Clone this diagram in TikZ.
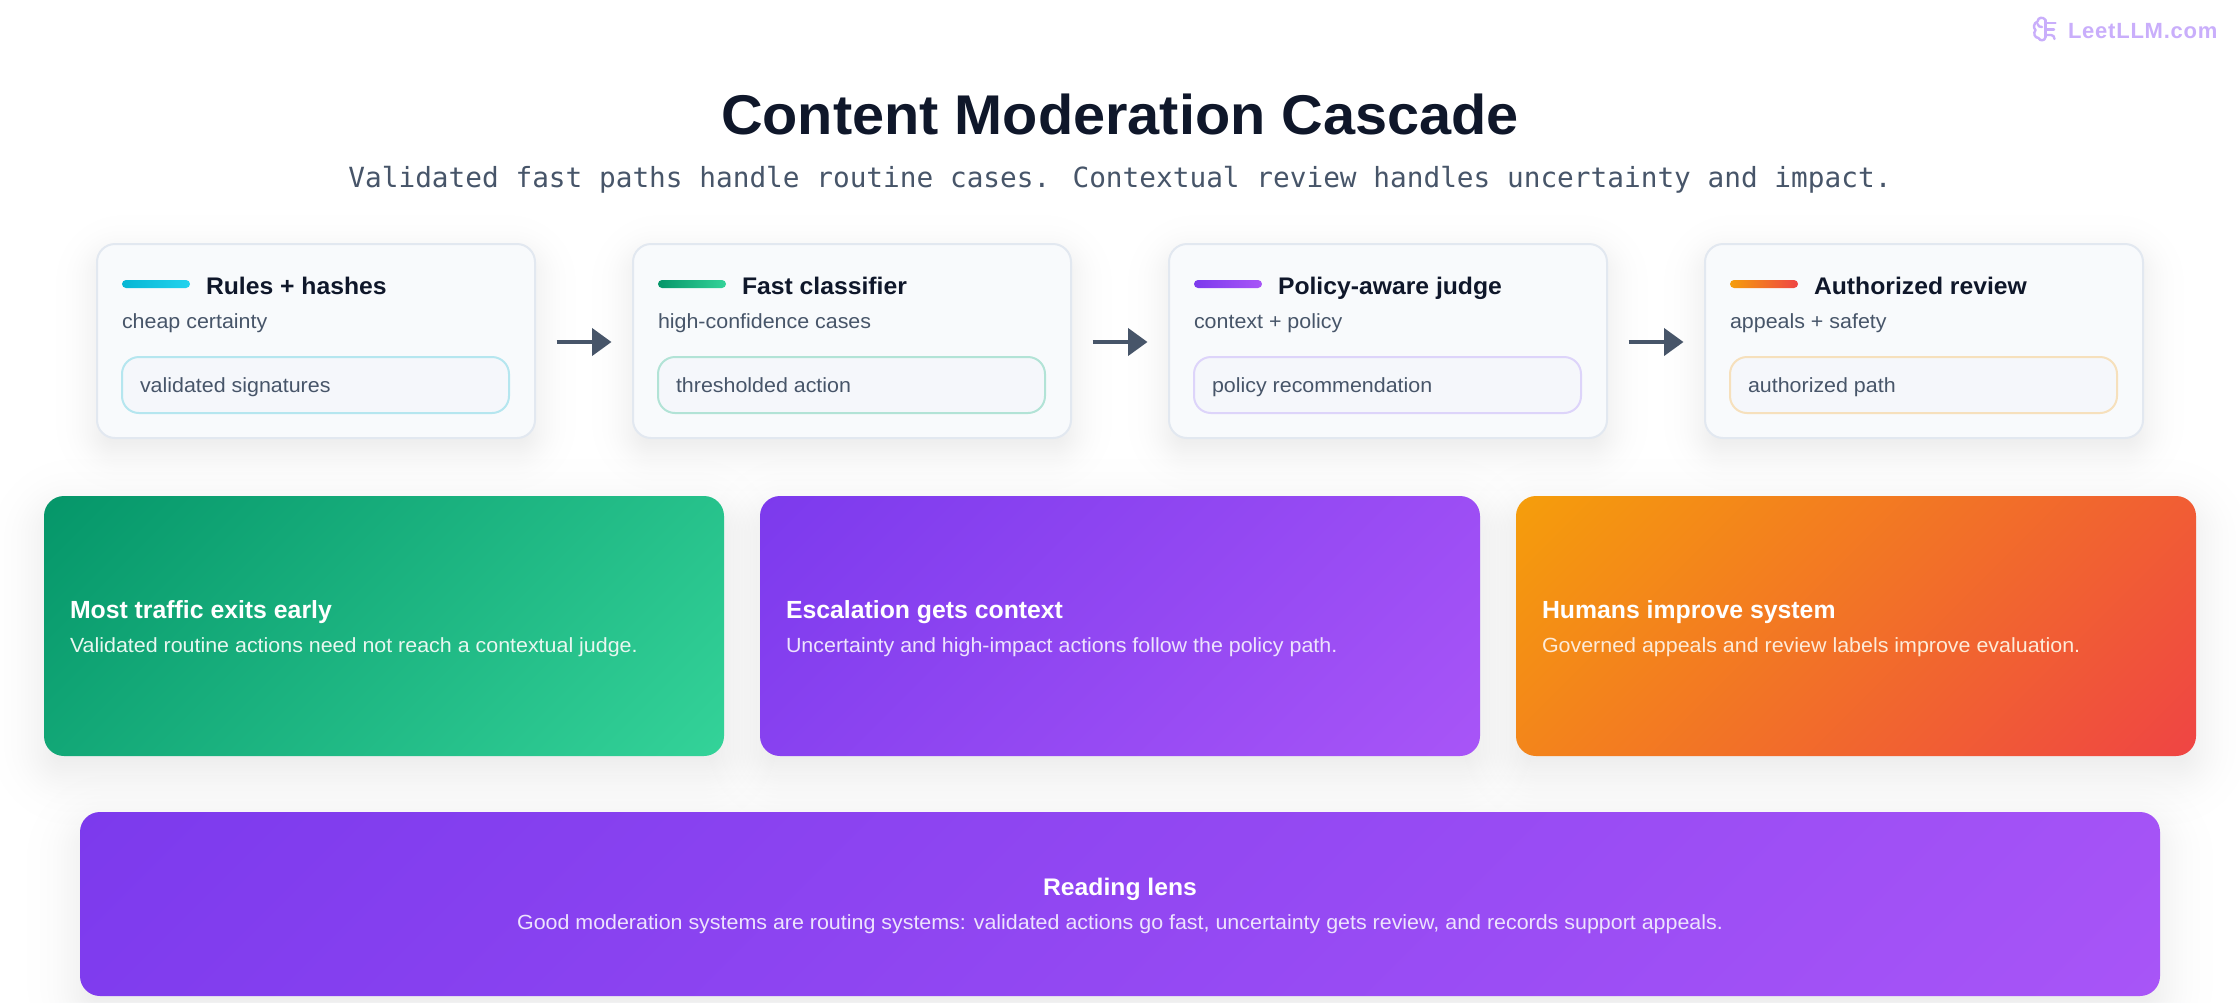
\documentclass[tikz,border=0pt]{standalone}
\usepackage{fontspec}
\usetikzlibrary{arrows.meta,calc}
\setmainfont{Liberation Sans}
\newfontfamily\monof{DejaVu Sans Mono}
\newfontfamily\bodyf[FakeStretch=1.045]{Liberation Sans}
\newfontfamily\headf[FakeStretch=1.03]{Liberation Sans}
\definecolor{ink}{HTML}{0F172A}
\definecolor{slate}{HTML}{475569}
\definecolor{cardfill}{HTML}{F8FAFC}
\definecolor{cardline}{HTML}{E2E8F0}
\definecolor{pillfill}{HTML}{F5F7FB}
\definecolor{cyanA}{HTML}{06B6D4}\definecolor{cyanB}{HTML}{22D3EE}\definecolor{cyanL}{HTML}{B5E6EF}
\definecolor{greenA}{HTML}{059669}\definecolor{greenB}{HTML}{34D399}\definecolor{greenL}{HTML}{B2E3D6}
\definecolor{purpA}{HTML}{7C3AED}\definecolor{purpB}{HTML}{A855F7}\definecolor{purpL}{HTML}{DDD4FA}
\definecolor{orA}{HTML}{F59E0B}\definecolor{orB}{HTML}{EF4444}\definecolor{orL}{HTML}{F6E0BC}
\definecolor{wm}{HTML}{C9AEFB}
\definecolor{softw}{HTML}{E8F7F0}
\definecolor{softp}{HTML}{EDE3FD}
\definecolor{softo}{HTML}{FDEBD8}
\tikzset{
  txt/.style={inner sep=0pt,outer sep=0pt,anchor=base west},
  ctxt/.style={inner sep=0pt,outer sep=0pt,anchor=base},
  cardttl/.style={txt,text=ink,font=\fontsize{24}{28}\selectfont\headf\bfseries},
  cardsub/.style={txt,text=slate,font=\fontsize{20.5}{24}\selectfont\bodyf},
  bigttl/.style={txt,text=white,font=\fontsize{24.8}{30}\selectfont\bfseries},
  stagecard/.style={draw=cardline,line width=2pt,fill=cardfill,rounded corners=18pt,minimum width=438pt,minimum height=194pt,inner sep=0pt},
  pillbox/.style={line width=2pt,fill=pillfill,rounded corners=17pt,minimum width=387pt,minimum height=56pt,inner sep=0pt},
  accentbar/.style={rounded corners=4pt,minimum width=68pt,minimum height=8pt,inner sep=0pt},
  flow/.style={draw=slate,line width=4.2pt,-{Triangle[length=19.5pt,width=27pt]},shorten >=20.5pt,shorten <=20.5pt},
  ghost/.style={inner sep=0pt,outer sep=0pt}
}
% soft shadow (equal-alpha layers at Gaussian quantiles): x0 y0 x1 y1 radius dy sigma alpha-per-layer
\newcommand{\softshadow}[8]{%
  \foreach \z in {2.04,1.54,1.26,1.05,0.89,0.74,0.61,0.49,0.37,0.26,0.16,0.05,-0.05,-0.16,-0.26,-0.37,-0.49,-0.61,-0.74,-0.89,-1.05,-1.26,-1.54,-2.04}{%
    \pgfmathsetmacro\spr{\z*#7}%
    \pgfmathsetmacro\rad{max(#5+1.2*\spr,3)}%
    \fill[ink,opacity=#8,rounded corners=\rad pt] (#1-\spr,#2+#6-\spr) rectangle (#3+\spr,#4+#6+\spr);
  }%
}
% gradient box at CSS 135deg: x0 y0 x1 y1 radius colA colB name
\newcommand{\gradbox}[8]{%
  \pgfmathsetmacro\gcx{(#1+#3)/2}\pgfmathsetmacro\gcy{(#2+#4)/2}%
  \pgfmathsetmacro\gL{((#3-#1)+(#4-#2))*0.70711}%
  \begin{scope}
    \clip[rounded corners=#5pt] (#1,#2) rectangle (#3,#4);
    \shade[left color=#6,right color=#7,transform canvas={shift={(\gcx,\gcy)},rotate=-45}] (-\gL/2,-\gL) rectangle (\gL/2,\gL);
  \end{scope}
  \pgfmathsetmacro\gw{#3-#1}\pgfmathsetmacro\gh{#4-#2}%
  \node[ghost,minimum width=\gw pt,minimum height=\gh pt] (#8) at (\gcx,\gcy) {};
}
% stage card: id x colA colB pillcolour title sub pill
\newcommand{\stage}[8]{%
  \softshadow{#2}{244}{#2+438}{438}{18}{12}{20}{0.0058}
  \node[stagecard] (card#1) at (#2+219,341) {};
  \node[accentbar,left color=#3,right color=#4] (bar#1) at (#2+59,284) {};
  \node[cardttl] (ttl#1) at (#2+109,294.5) {#6};
  \node[cardsub] (sub#1) at (#2+25,328) {#7};
  \node[pillbox,draw=#5] (pill#1) at (#2+218.5,385) {};
  \node[cardsub] (note#1) at (#2+43,392) {#8};
}
\begin{document}
\begin{tikzpicture}[x=1pt,y=-1pt]
\useasboundingbox[fill=white] (0,0) rectangle (2240,1002);
% watermark
\begin{scope}[draw=wm,line width=2.4pt,line cap=round,line join=round]
  \draw (2045.5,20) .. controls (2043,16.5) and (2038,17) .. (2037.5,21.5)
        .. controls (2033.5,23) and (2033,28) .. (2035.5,30)
        .. controls (2033,33) and (2034.5,38) .. (2038.5,38)
        .. controls (2040,41.5) and (2045,41) .. (2045.5,37);
  \draw (2045.5,20) -- (2045.5,37);
  \draw (2037.5,24) .. controls (2038,26.5) and (2040,27) .. (2042,27);
  \draw (2045.5,23) -- (2055.5,23);
  \draw (2045.5,29.5) -- (2054,29.5);
  \draw (2045.5,35) -- (2051,35) .. controls (2053,35) and (2054.5,36.5) .. (2054.5,39);
\end{scope}
\node[txt,text=wm,font=\fontsize{22}{26}\selectfont\bfseries] (brand) at (2068,38) {\addfontfeature{LetterSpace=3.5}LeetLLM.com};
% header
\node[ctxt,text=ink,font=\fontsize{56}{64}\selectfont\headf\bfseries] (title) at (1120,134) {Content Moderation Cascade};
\node[ctxt,text=slate,font=\fontsize{27.76}{34}\selectfont\monof] (subtitle) at (1120,187) {Validated fast paths handle routine cases. Contextual review handles uncertainty and impact.};
% stage cards
\stage{1}{97}{cyanA}{cyanB}{cyanL}{Rules + hashes}{cheap certainty}{validated signatures}
\stage{2}{633}{greenA}{greenB}{greenL}{Fast classifier}{high-confidence cases}{thresholded action}
\stage{3}{1169}{purpA}{purpB}{purpL}{Policy-aware judge}{context + policy}{policy recommendation}
\stage{4}{1705}{orA}{orB}{orL}{Authorized review}{appeals + safety}{authorized path}
\draw[flow] ([yshift=-1pt]card1.east) -- ([yshift=-1pt]card2.west);
\draw[flow] ([yshift=-1pt]card2.east) -- ([yshift=-1pt]card3.west);
\draw[flow] ([yshift=-1pt]card3.east) -- ([yshift=-1pt]card4.west);
% outcome shadows
\softshadow{44}{496}{724}{756}{20}{16}{26}{0.0056}
\softshadow{760}{496}{1480}{756}{20}{16}{26}{0.0056}
\softshadow{1516}{496}{2196}{756}{20}{16}{26}{0.0056}
\softshadow{80}{812}{2160}{996}{20}{16}{26}{0.0056}
% outcome cards
\gradbox{44}{496}{724}{756}{20}{greenA}{greenB}{out1}
\gradbox{760}{496}{1480}{756}{20}{purpA}{purpB}{out2}
\gradbox{1516}{496}{2196}{756}{20}{orA}{orB}{out3}
\gradbox{80}{812}{2160}{996}{20}{purpA}{purpB}{lens}
\node[bigttl] (o1t) at (70,618) {Most traffic exits early};
\node[cardsub,text=softw] (o1d) at (70,652) {Validated routine actions need not reach a contextual judge.};
\node[bigttl] (o2t) at (786,618) {Escalation gets context};
\node[cardsub,text=softp] (o2d) at (786,652) {Uncertainty and high-impact actions follow the policy path.};
\node[bigttl] (o3t) at (1542,618) {Humans improve system};
\node[cardsub,text=softo] (o3d) at (1542,652) {Governed appeals and review labels improve evaluation.};
\node[ctxt,text=white,font=\fontsize{24}{28}\selectfont\headf\bfseries] (lt) at (1120,895) {Reading lens};
\node[ctxt,text=softp,font=\fontsize{20.5}{24}\selectfont\bodyf] (ld) at (1120,929.5) {Good moderation systems are routing systems: validated actions go fast, uncertainty gets review, and records support appeals.};
\end{tikzpicture}
\end{document}
